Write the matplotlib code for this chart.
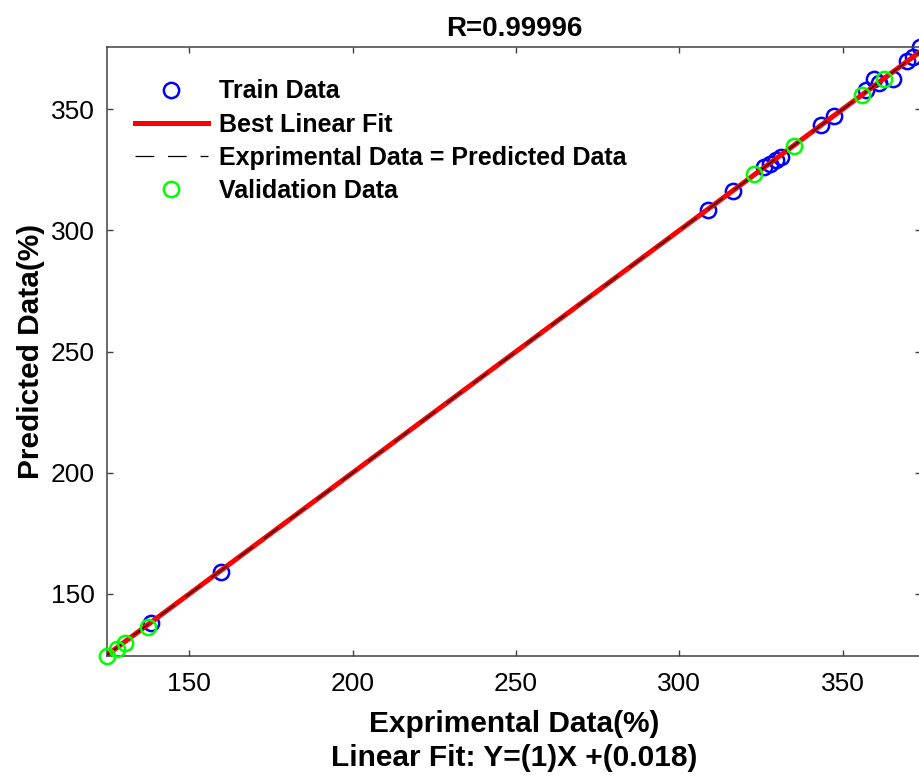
import matplotlib
matplotlib.use("Agg")
import matplotlib.pyplot as plt
import numpy as np

plt.rcParams['font.family'] = ['Liberation Sans', 'DejaVu Sans']

# ---- data ----
train_x = [138.2, 159.8, 308.7, 316.5, 325.9, 327.8, 329.5, 331.0, 343.3, 347.3,
           357.3, 359.6, 361.0, 365.5, 369.8, 371.5, 373.8]
train_y = [137.9, 159.2, 308.6, 316.4, 326.2, 327.6, 329.0, 330.5, 343.5, 347.2,
           357.8, 362.3, 361.0, 362.3, 369.9, 371.6, 375.5]
val_x = [124.9, 128.0, 130.2, 137.2, 323.0, 335.0, 356.0, 362.6]
val_y = [124.6, 127.3, 129.7, 136.5, 323.1, 335.0, 356.0, 362.6]
fit_slope = 1.0
fit_intercept = 0.018
r_value = 0.99996
x_ticks = [150, 200, 250, 300, 350]
y_ticks = [150, 200, 250, 300, 350]
x_limits = [124.8, 374.0]
y_limits = [124.4, 375.7]

W, H = 920, 778
fig = plt.figure(figsize=(W / 100, H / 100), dpi=100)
ax = fig.add_axes([107 / W, 1 - 656 / H, (921 - 107) / W, (656 - 47) / H])

all_x = np.array(train_x + val_x)
xr = np.array([all_x.min(), all_x.max()])

ax.plot(train_x, train_y, 'o', mfc='none', mec=(0, 0, 1), ms=11, mew=1.8,
        label='Train Data', zorder=2, clip_on=False)
ax.plot(xr, fit_slope * xr + fit_intercept, '-', color=(1, 0, 0), lw=3.6,
        label='Best Linear Fit', zorder=3)
ax.plot(xr, xr, '--', color='black', lw=0.9, dashes=(15, 11),
        label='Exprimental Data = Predicted Data', zorder=4)
ax.plot(val_x, val_y, 'o', mfc='none', mec=(0, 1, 0), ms=11, mew=1.8,
        label='Validation Data', zorder=5, clip_on=False)

ax.set_xlim(x_limits)
ax.set_ylim(y_limits)
ax.set_xticks(x_ticks)
ax.set_yticks(y_ticks)

for s in ax.spines.values():
    s.set_color('#404040')
    s.set_linewidth(1.1)
ax.tick_params(direction='in', length=4.5, width=1.0, color='#404040',
               top=True, right=True, labelsize=19, labelcolor='black')
ax.tick_params(axis='x', pad=11.5)
ax.tick_params(axis='y', pad=9)

ax.set_title('R=%.5f' % r_value, fontsize=20, fontweight='bold', pad=8)
ax.set_xlabel('Exprimental Data(%)\nLinear Fit: Y=(1)X +(0.018)', fontsize=21.5,
              fontweight='bold', labelpad=10, linespacing=1.27)
ax.set_ylabel('Predicted Data(%)', fontsize=21.5, fontweight='bold', labelpad=4)

leg = ax.legend(loc='upper left', bbox_to_anchor=(-0.006, 1.0), frameon=False,
                prop={'weight': 'bold', 'size': 18}, handlelength=2.95,
                handletextpad=0.42, labelspacing=0.36, borderaxespad=0.9,
                borderpad=0.4)

fig.savefig('out.png', dpi=100)
